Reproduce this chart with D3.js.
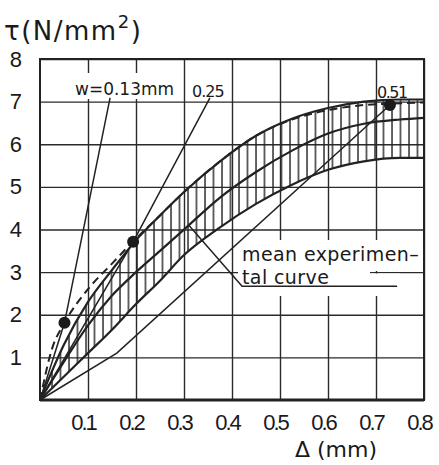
<!DOCTYPE html>
<html>
<head>
<meta charset="utf-8">
<script src="https://cdn.jsdelivr.net/npm/d3@7"></script>
<style>
  body { margin: 0; background: #fff; }
  svg { display: block; font-family: "DejaVu Sans", sans-serif; }
  .grid line { stroke: #2a2a2a; stroke-width: 1.4; }
  .grid path { display: none; }
  .grid text { fill: #1a1a1a; font-size: 22px; }
</style>
</head>
<body>
<div id="graph"></div>
<script>
// chart values
const xTicks = [0.1, 0.2, 0.3, 0.4, 0.5, 0.6, 0.7, 0.8];
const yTicks = [1, 2, 3, 4, 5, 6, 7, 8];

// band of experimental results, all on the same delta values
const bandX = [0, 0.05, 0.1, 0.15, 0.2, 0.25, 0.3, 0.375, 0.45, 0.525, 0.6, 0.675, 0.75, 0.8];
const upper = [0, 1.3, 2.3, 3.05, 3.75, 4.33, 4.88, 5.6, 6.2, 6.6, 6.85, 7.0, 7.05, 7.05];
const mean  = [0, 0.9, 1.75, 2.45, 3.0, 3.5, 4.0, 4.75, 5.35, 5.85, 6.25, 6.48, 6.58, 6.62];
const lower = [0, 0.55, 1.1, 1.65, 2.25, 2.8, 3.4, 4.05, 4.6, 5.05, 5.4, 5.6, 5.68, 5.68];

// dashed curve through the three points
const dashedX = [0, 0.025, 0.051, 0.1, 0.15, 0.194, 0.25, 0.3, 0.375, 0.45, 0.525, 0.6, 0.675, 0.729, 0.8];
const dashedY = [0, 1.2, 1.81, 2.6, 3.2, 3.72, 4.33, 4.88, 5.6, 6.2, 6.58, 6.8, 6.92, 6.95, 6.98];

// straight lines for each crack width
const wLabels = ["w=0.13mm", "0.25", "0.51"];
const wLines = [
  [[0, 0], [0.051, 1.81], [0.146, 7.09]],
  [[0, 0], [0.194, 3.71], [0.354, 7.09]],
  [[0, 0], [0.16, 1.1], [0.729, 6.92]]
];
const wPoints = [[0.051, 1.81], [0.194, 3.71], [0.729, 6.92]];

const graph = document.getElementById('graph');
graph.innerHTML = '<svg width="439" height="465"></svg>';
const svg = d3.select('svg');

const x = d3.scaleLinear().domain([0, 0.8]).range([40, 424]);
const y = d3.scaleLinear().domain([0, 8]).range([400, 59]);

const defs = svg.append("defs");
defs.append("pattern")
  .attr("id", "hatch")
  .attr("patternUnits", "userSpaceOnUse")
  .attr("width", 8.5).attr("height", 8)
  .append("path")
  .attr("d", "M1,0V8")
  .attr("stroke", "#222")
  .attr("stroke-width", 1.4);

// grid + tick labels
const gx = svg.append("g")
  .attr("class", "grid")
  .attr("transform", "translate(0,400)")
  .call(d3.axisBottom(x).tickValues(xTicks).tickSize(-(400 - 59)).tickPadding(14).tickFormat(d3.format(".1f")));
gx.selectAll("text").attr("dx", -5).attr("letter-spacing", -2);

const gy = svg.append("g")
  .attr("class", "grid")
  .attr("transform", "translate(40,0)")
  .call(d3.axisLeft(y).tickValues(yTicks).tickSize(-(424 - 40)).tickPadding(18).tickFormat(d3.format("d")));

// frame
svg.append("rect")
  .attr("x", x(0)).attr("y", y(8))
  .attr("width", x(0.8) - x(0)).attr("height", y(0) - y(8))
  .attr("fill", "none").attr("stroke", "#222").attr("stroke-width", 2);
svg.append("line")
  .attr("x1", x(0)).attr("x2", x(0.8)).attr("y1", y(0)).attr("y2", y(0))
  .attr("stroke", "#222").attr("stroke-width", 3);

// white backgrounds under the labels
const bg = svg.append("g").attr("fill", "#fff");
bg.append("rect").attr("x", 73).attr("y", 73).attr("width", 103).attr("height", 26);
bg.append("rect").attr("x", 238).attr("y", 240).attr("width", 184).attr("height", 31);
bg.append("rect").attr("x", 238).attr("y", 268).attr("width", 132).attr("height", 28);
bg.append("rect").attr("x", 370).attr("y", 273.5).attr("width", 30).attr("height", 22.5);

// hatched band
const band = bandX.map((d, i) => ({x: d, lo: lower[i], hi: upper[i]}));
svg.append("path")
  .datum(band)
  .attr("fill", "url(#hatch)")
  .attr("d", d3.area().x(d => x(d.x)).y0(d => y(d.lo)).y1(d => y(d.hi)).curve(d3.curveMonotoneX));

const line = d3.line().curve(d3.curveMonotoneX);
[upper, lower, mean].forEach(vals => {
  svg.append("path")
    .datum(bandX.map((d, i) => [x(d), y(vals[i])]))
    .attr("fill", "none")
    .attr("stroke", "#222")
    .attr("stroke-width", 2.2)
    .attr("d", line);
});

svg.append("path")
  .datum(dashedX.map((d, i) => [x(d), y(dashedY[i])]))
  .attr("fill", "none")
  .attr("stroke", "#222")
  .attr("stroke-width", 2)
  .attr("stroke-dasharray", "8,5")
  .attr("d", line);

svg.selectAll(".wline")
  .data(wLines)
  .enter().append("path")
  .attr("class", "wline")
  .attr("fill", "none")
  .attr("stroke", "#222")
  .attr("stroke-width", 1.5)
  .attr("d", d => d3.line()(d.map(p => [x(p[0]), y(p[1])])));

svg.selectAll(".dot")
  .data(wPoints)
  .enter().append("circle")
  .attr("class", "dot")
  .attr("cx", d => x(d[0]))
  .attr("cy", d => y(d[1]))
  .attr("r", 6)
  .attr("fill", "#1a1a1a");

// leader for the mean curve label
svg.append("path")
  .datum([[0.31, 4.1], [0.421, 2.67], [0.744, 2.67]])
  .attr("fill", "none")
  .attr("stroke", "#222")
  .attr("stroke-width", 1.5)
  .attr("d", d => d3.line()(d.map(p => [x(p[0]), y(p[1])])));

// texts
const txt = svg.append("g").attr("fill", "#1a1a1a");
txt.append("text").attr("x", 75).attr("y", 95).attr("font-size", 17).text(wLabels[0]);
txt.append("text").attr("x", 192).attr("y", 97).attr("font-size", 16).attr("letter-spacing", -1).text(wLabels[1]);
txt.append("text").attr("x", 377).attr("y", 98).attr("font-size", 16).attr("letter-spacing", -1.5).text(wLabels[2]);

txt.append("text").attr("x", 242).attr("y", 261).attr("font-size", 19).attr("letter-spacing", 0.4).text("mean experimen\u2013");
txt.append("text").attr("x", 242).attr("y", 284).attr("font-size", 19).attr("letter-spacing", 0.4).text("tal curve");

const title = txt.append("text").attr("x", 4).attr("y", 40).attr("font-size", 26).attr("letter-spacing", 1.5);
title.append("tspan").text("\u03c4(N/mm");
title.append("tspan").attr("font-size", 18).attr("dy", -12).text("2");
title.append("tspan").attr("dy", 12).text(")");

txt.append("text").attr("x", 336).attr("y", 457).attr("font-size", 22)
  .attr("text-anchor", "middle").text("\u0394 (mm)");
</script>
</body>
</html>
